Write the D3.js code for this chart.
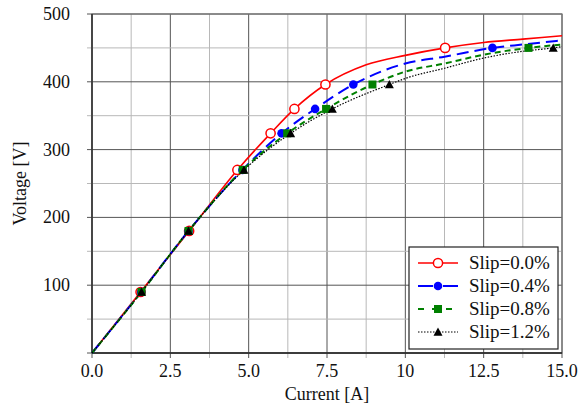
<!DOCTYPE html>
<html><head><meta charset="utf-8">
<script src="https://cdn.jsdelivr.net/npm/d3@7"></script>
<style>body{margin:0;background:#fff}svg{display:block}text{font-family:"Liberation Serif","Times New Roman",serif;fill:#111}</style>
</head><body><svg id="c" width="581" height="413"></svg>
<script>
const seriesNames = ["Slip=0.0%", "Slip=0.4%", "Slip=0.8%", "Slip=1.2%"];
// marker points
const voltages = [90, 180, 270, 324, 360, 396, 450];
const current00 = [1.55, 3.10, 4.64, 5.70, 6.46, 7.45, 11.27];
const current04 = [1.57, 3.08, 4.80, 6.05, 7.12, 8.34, 12.78];
const current08 = [1.58, 3.08, 4.81, 6.23, 7.47, 8.95, 13.93];
const current12 = [1.58, 3.08, 4.85, 6.34, 7.67, 9.49, 14.72];
// extra points (current, voltage)
const traceI00 = [8.75, 10, 12.5, 13.75, 15];
const traceV00 = [425, 439, 458, 463, 468];
const traceI04 = [10, 11.25, 13.75, 15];
const traceV04 = [427, 437, 455, 461];
const traceI08 = [10, 11.25, 12.5, 15];
const traceV08 = [415, 427, 440, 455];
const traceI12 = [10, 11.25, 12.5, 13.75, 15];
const traceV12 = [405, 420, 435, 445, 452];
const xTicks = [0, 2.5, 5, 7.5, 10, 12.5, 15];
const xTickLabels = ["0.0", "2.5", "5.0", "7.5", "10", "12.5", "15.0"];
const yTicks = [100, 200, 300, 400, 500];

const currents = [current00, current04, current08, current12];
const traceI = [traceI00, traceI04, traceI08, traceI12];
const traceV = [traceV00, traceV04, traceV08, traceV12];
const colors = ["#ff0000", "#0000ff", "#008000", "#000000"];
const dashes = [null, "12,6", "6,4", "1.5,1.5"];
const widths = [1.6, 2, 2, 1.2];
const markers = ["circle", "dot", "square", "triangle"];

const svg = d3.select("#c");
const L = 92, R = 562, T = 14, B = 353;
const x = d3.scaleLinear().domain([0, 15]).range([L, R]);
const y = d3.scaleLinear().domain([0, 500]).range([B, T]);

// grid
const minorX = d3.range(0, 15.01, 1.25), minorY = d3.range(0, 500.1, 50);
const g = svg.append("g");
g.selectAll(".vx").data(minorX).join("line")
  .attr("x1", d => x(d)).attr("x2", d => x(d)).attr("y1", T).attr("y2", B + 5)
  .attr("stroke", d => (Math.abs(d / 2.5 - Math.round(d / 2.5)) < 1e-6) ? "#555" : "#b8b8b8").attr("stroke-width", 1);
g.selectAll(".hy").data(minorY).join("line")
  .attr("y1", d => y(d)).attr("y2", d => y(d)).attr("x1", L - 5).attr("x2", R)
  .attr("stroke", d => d % 100 === 0 ? "#555" : "#b8b8b8").attr("stroke-width", 1);
// frame
svg.append("rect").attr("x", L).attr("y", T).attr("width", R - L).attr("height", B - T)
  .attr("fill", "none").attr("stroke", "#777").attr("stroke-width", 1.2);
svg.append("line").attr("x1", L).attr("x2", L).attr("y1", T).attr("y2", B).attr("stroke", "#222").attr("stroke-width", 1.3);
svg.append("line").attr("x1", L).attr("x2", R).attr("y1", B).attr("y2", B).attr("stroke", "#222").attr("stroke-width", 1.3);

// tick labels
svg.selectAll(".xt").data(xTicks).join("text")
  .attr("x", d => x(d)).attr("y", 377).attr("text-anchor", "middle").attr("font-size", 18)
  .text((d, i) => xTickLabels[i]);
svg.selectAll(".yt").data(yTicks).join("text")
  .attr("x", 70).attr("y", d => y(d) + 6).attr("text-anchor", "end").attr("font-size", 18)
  .text(d => d);
svg.append("text").attr("x", (L + R) / 2).attr("y", 400).attr("text-anchor", "middle").attr("font-size", 18).text("Current [A]");
svg.append("text").attr("transform", `translate(26,${(T + B) / 2}) rotate(-90)`).attr("text-anchor", "middle").attr("font-size", 18).text("Voltage [V]");

function drawMarker(sel, type, color) {
  if (type === "circle") sel.append("circle").attr("r", 4.6).attr("fill", "#fff").attr("stroke", color).attr("stroke-width", 1.5);
  else if (type === "dot") sel.append("circle").attr("r", 4.3).attr("fill", color);
  else if (type === "square") sel.append("rect").attr("x", -4).attr("y", -4).attr("width", 8).attr("height", 8).attr("fill", color);
  else sel.append("path").attr("d", "M0,-4.5L4.5,3.8L-4.5,3.8Z").attr("fill", color);
}

const line = d3.line().x(d => x(d[0])).y(d => y(d[1])).curve(d3.curveMonotoneX);
currents.forEach((cs, i) => {
  const pts = [[0, 0]].concat(cs.map((c, j) => [c, voltages[j]]))
    .concat(traceI[i].map((c, j) => [c, traceV[i][j]]))
    .sort((a, b) => a[0] - b[0]);
  svg.append("path").attr("d", line(pts)).attr("fill", "none").attr("stroke", colors[i])
    .attr("stroke-width", widths[i]).attr("stroke-dasharray", dashes[i]);
});
currents.forEach((cs, i) => {
  cs.forEach((c, j) => {
    const m = svg.append("g").attr("transform", `translate(${x(c)},${y(voltages[j])})`);
    drawMarker(m, markers[i], colors[i]);
  });
});

// legend
const lg = svg.append("g");
lg.append("rect").attr("x", 409).attr("y", 247).attr("width", 149).attr("height", 102)
  .attr("fill", "#fff").attr("stroke", "#222").attr("stroke-width", 1.2);
seriesNames.forEach((n, i) => {
  const yy = 263 + i * 23;
  lg.append("line").attr("x1", 418).attr("x2", 458).attr("y1", yy).attr("y2", yy)
    .attr("stroke", colors[i]).attr("stroke-width", widths[i]).attr("stroke-dasharray", i === 1 ? "15,10" : i === 2 ? "6,8" : dashes[i]);
  const m = lg.append("g").attr("transform", `translate(438,${yy})`);
  drawMarker(m, markers[i], colors[i]);
  lg.append("text").attr("x", 469).attr("y", yy + 6).attr("font-size", 19).text(n);
});
</script></body></html>
